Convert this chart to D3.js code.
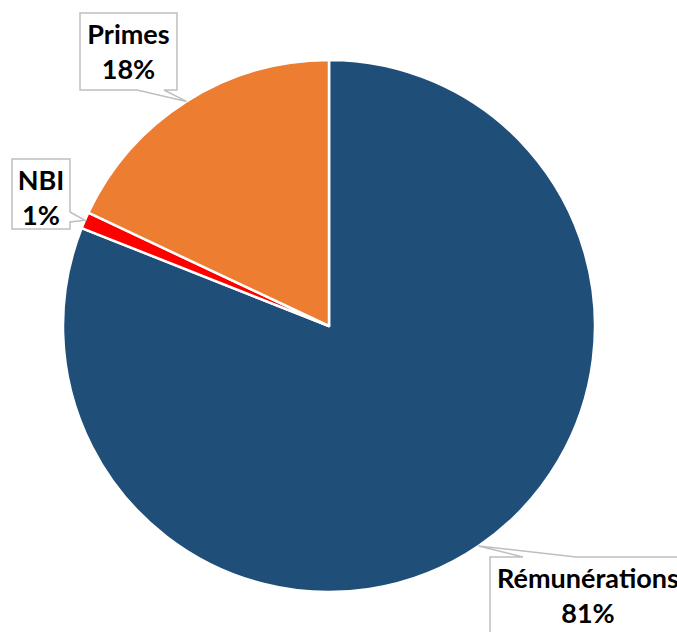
<!DOCTYPE html>
<html>
<head>
<meta charset="utf-8">
<script src="https://cdn.jsdelivr.net/npm/d3@7"></script>
<style>
  html, body { margin: 0; padding: 0; background: #ffffff; overflow: hidden; }
  svg { display: block; }
</style>
</head>
<body>
<div id="chart"></div>
<script>
// Répartition de la rémunération (parts en %)
const categories = ["Rémunérations", "NBI", "Primes"];
const values = [81, 1, 18];
const colors = ["#1F4E79", "#FF0000", "#ED7D31"];

const width = 677, height = 632;
const cx = 329, cy = 326, radius = 266;

// Callout boxes: top-left corner and size, plus where the pointer leaves the box
const callouts = {
  "Primes":        { x: 80,  y: 13,  w: 97,  h: 77, side: "bottom", a: 137, b: 164 },
  "NBI":           { x: 12,  y: 159, w: 58,  h: 70, side: "right",  a: 212, b: 222 },
  "Rémunérations": { x: 490, y: 557, w: 200, h: 90, side: "top",    a: 523, b: 576 }
};

const svg = d3.select("#chart").append("svg")
  .attr("width", width).attr("height", height);

const pie = d3.pie().sort(null).value(d => d.value).startAngle(0).endAngle(2 * Math.PI);
const arcs = pie(categories.map((c, i) => ({ name: c, value: values[i], color: colors[i] })));

const arc = d3.arc().innerRadius(0).outerRadius(radius);

const g = svg.append("g").attr("transform", `translate(${cx},${cy})`);
g.selectAll("path.slice").data(arcs).join("path")
  .attr("class", "slice")
  .attr("d", arc)
  .attr("fill", d => d.data.color)
  .attr("stroke", "#ffffff")
  .attr("stroke-width", 2.5)
  .attr("stroke-linejoin", "round");

// Callout labels
const lab = svg.append("g");
arcs.forEach(d => {
  const c = callouts[d.data.name];
  const mid = (d.startAngle + d.endAngle) / 2;
  const tx = cx + radius * Math.sin(mid);
  const ty = cy - radius * Math.cos(mid);
  const x0 = c.x, y0 = c.y, x1 = c.x + c.w, y1 = c.y + c.h;
  let pts;
  if (c.side === "bottom") {
    pts = [[x0, y0], [x1, y0], [x1, y1], [c.b, y1], [tx, ty], [c.a, y1], [x0, y1]];
  } else if (c.side === "right") {
    pts = [[x0, y0], [x1, y0], [x1, c.a], [tx, ty], [x1, c.b], [x1, y1], [x0, y1]];
  } else {
    pts = [[x0, y0], [c.a, y0], [tx, ty], [c.b, y0], [x1, y0], [x1, y1], [x0, y1]];
  }
  lab.append("path")
    .attr("d", d3.line()(pts) + "Z")
    .attr("fill", "#ffffff")
    .attr("stroke", "#BFBFBF")
    .attr("stroke-width", 1.5);

  const mx = d.data.name === "Rémunérations" ? 588 : (x0 + x1) / 2;
  const base1 = y0 + 31;
  const t = lab.append("text")
    .attr("text-anchor", "middle")
    .attr("font-family", "Lato, 'Open Sans', sans-serif")
    .attr("font-weight", 700)
    .attr("font-size", 27)
    .attr("fill", "#000000");
  t.append("tspan").attr("x", mx).attr("y", base1).text(d.data.name);
  t.append("tspan").attr("x", mx).attr("y", base1 + 35).text(d.data.value + "%");
});
</script>
</body>
</html>
